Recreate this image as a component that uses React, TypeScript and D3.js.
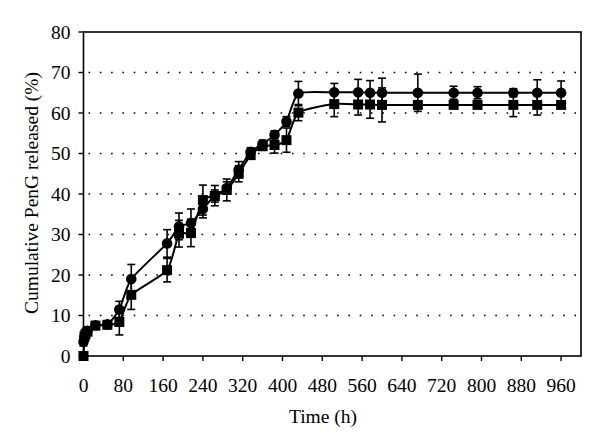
import React from "react";
import * as d3 from "d3";

const times = [0, 2, 4, 8, 24, 48, 72, 96, 168, 192, 216, 240, 264, 288, 312, 336, 360, 384, 408, 432, 504, 552, 576, 600, 672, 744, 792, 864, 912, 960];
const circleValues = [3.5, 4.8, 5.6, 6.2, 7.6, 7.8, 11.5, 19.0, 27.8, 32.0, 32.8, 36.3, 39.6, 41.5, 46.0, 50.4, 52.3, 54.6, 57.9, 64.8, 65.1, 65.1, 65.0, 65.0, 65.0, 65.0, 65.0, 65.0, 65.0, 65.0];
const circleErrors = [1, 1, 1, 1, 0.5, 0.5, 2, 3.6, 3.4, 3.3, 3.5, 2.2, 2.5, 1.5, 2.0, 1.0, 1.0, 1.0, 1.2, 3.0, 2.2, 3.2, 3.0, 3.6, 4.6, 1.6, 1.5, 1.0, 3.2, 2.9];
const squareValues = [0, 4.8, 5.4, 6.0, 7.5, 7.7, 8.4, 15.1, 21.2, 30.2, 30.4, 38.5, 39.5, 41.0, 45.0, 49.6, 51.8, 52.1, 53.3, 60.1, 62.2, 62.1, 62.1, 62.0, 62.0, 62.0, 62.0, 62.0, 62.0, 62.0];
const squareErrors = [0, 0.5, 0.5, 0.5, 0.5, 0.5, 3.2, 3.6, 2.9, 3.3, 3.4, 3.7, 1.5, 2.7, 2.0, 1.0, 1.0, 2.0, 3.0, 2.0, 3.1, 2.6, 3.4, 4.2, 1.0, 0.8, 0.8, 2.9, 2.5, 0.8];
const xTicks = [0, 80, 160, 240, 320, 400, 480, 560, 640, 720, 800, 880, 960];
const yTicks = [0, 10, 20, 30, 40, 50, 60, 70, 80];
const xLabel = "Time (h)";
const yLabel = "Cumulative PenG released (%)";

const W = 600;
const H = 441;
const left = 83.5;
const right = 581;
const top = 32;
const bottom = 356;
const FONT = "'Liberation Serif', 'Times New Roman', serif";

export default function App() {
  const x = d3.scaleLinear().domain([0, 1000]).range([left, right]);
  const y = d3.scaleLinear().domain([0, 80]).range([bottom, top]);
  const line = d3
    .line<[number, number]>()
    .x((d) => x(d[0]))
    .y((d) => y(d[1]))
    .curve(d3.curveCardinal.tension(0.4));
  const circ = times.map((t, i) => [t, circleValues[i]] as [number, number]);
  const sq = times.map((t, i) => [t, squareValues[i]] as [number, number]);
  const cap = 4;
  const errBars = (vals: number[], errs: number[], key: string) =>
    times.map((t, i) => {
      const e = errs[i];
      if (!e) return null;
      const cx = x(t);
      const y1 = y(vals[i] + e);
      const y2 = y(vals[i] - e);
      return (
        <g key={key + i} stroke="#000" strokeWidth={1.6}>
          <line x1={cx} x2={cx} y1={y1} y2={y2} />
          <line x1={cx - cap} x2={cx + cap} y1={y1} y2={y1} />
          <line x1={cx - cap} x2={cx + cap} y1={y2} y2={y2} />
        </g>
      );
    });
  return (
    <svg
      width={W}
      height={H}
      style={{ position: "absolute", left: 0, top: 0, background: "#fff" }}
    >
      <rect x={0} y={0} width={W} height={H} fill="#fff" />
      {yTicks
        .filter((v) => v > 0 && v < 80)
        .map((v) => (
          <line
            key={"g" + v}
            x1={left}
            x2={right}
            y1={y(v)}
            y2={y(v)}
            stroke="#000"
            strokeWidth={1.6}
            strokeDasharray="1.6 9.7"
            strokeDashoffset={-5}
          />
        ))}
      <rect
        x={left}
        y={top}
        width={right - left}
        height={bottom - top}
        fill="none"
        stroke="#000"
        strokeWidth={1.6}
      />
      {yTicks.map((v) => (
        <g key={"y" + v}>
          <line x1={left - 5} x2={left} y1={y(v)} y2={y(v)} stroke="#000" strokeWidth={1.4} />
          <text
            x={left - 13}
            y={y(v)}
            dy="0.34em"
            textAnchor="end"
            fontFamily={FONT}
            fontSize={19.5}
          >
            {v}
          </text>
        </g>
      ))}
      {xTicks.map((v) => (
        <g key={"x" + v}>
          <line x1={x(v)} x2={x(v)} y1={bottom} y2={bottom + 5} stroke="#000" strokeWidth={1.4} />
          <text
            x={x(v)}
            y={392}
            textAnchor="middle"
            fontFamily={FONT}
            fontSize={19.5}
          >
            {v}
          </text>
        </g>
      ))}
      <text x={323} y={423} textAnchor="middle" fontFamily={FONT} fontSize={19.5}>
        {xLabel}
      </text>
      <text
        transform={`translate(38,${193}) rotate(-90)`}
        textAnchor="middle"
        fontFamily={FONT}
        fontSize={19.5}
      >
        {yLabel}
      </text>
      {errBars(squareValues, squareErrors, "se")}
      {errBars(circleValues, circleErrors, "ce")}
      <path d={line(sq) || ""} fill="none" stroke="#000" strokeWidth={2} />
      <path d={line(circ) || ""} fill="none" stroke="#000" strokeWidth={2} />
      {sq.map((d, i) => (
        <rect
          key={"s" + i}
          x={x(d[0]) - 5}
          y={y(d[1]) - 5}
          width={10}
          height={10}
          fill="#000"
        />
      ))}
      {circ.map((d, i) => (
        <circle key={"c" + i} cx={x(d[0])} cy={y(d[1])} r={5.3} fill="#000" />
      ))}
    </svg>
  );
}
